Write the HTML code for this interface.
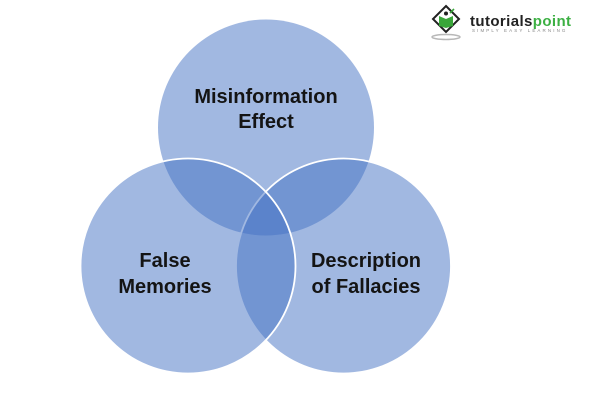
<!DOCTYPE html>
<html>
<head>
<meta charset="utf-8">
<style>
  html,body{margin:0;padding:0;background:#fff;}
  body{width:600px;height:406px;overflow:hidden;}
  svg{display:block;}
  .lbl{font-family:"Liberation Sans",sans-serif;font-weight:bold;font-size:20px;fill:#141414;text-anchor:middle;}
</style>
</head>
<body>
<svg width="600" height="406" viewBox="0 0 600 406" xmlns="http://www.w3.org/2000/svg">
  <rect width="600" height="406" fill="#fff"/>
  <!-- Venn circles -->
  <circle cx="266" cy="127.5" r="108" fill="#4472C4" fill-opacity="0.5"/>
  <circle cx="343.5" cy="266" r="107.5" fill="#4472C4" fill-opacity="0.5" stroke="#fff" stroke-width="1.8"/>
  <circle cx="188" cy="266" r="107.5" fill="#4472C4" fill-opacity="0.5" stroke="#fff" stroke-width="1.8"/>

  <!-- Labels -->
  <text class="lbl" x="266" y="103">Misinformation</text>
  <text class="lbl" x="266" y="128">Effect</text>
  <text class="lbl" x="165" y="267">False</text>
  <text class="lbl" x="165" y="293">Memories</text>
  <text class="lbl" x="366" y="267">Description</text>
  <text class="lbl" x="366" y="293">of Fallacies</text>

  <!-- Logo -->
  <g>
    <ellipse cx="446" cy="37" rx="14" ry="2.5" fill="none" stroke="#b8b8b8" stroke-width="1.5"/>
    <polygon points="446,6 459,19 446,32 433,19" fill="#fff" stroke="#222" stroke-width="2"/>
    <path d="M439,16 L446,19 L453,16 L453,26 L446,28 L439,26 Z" fill="#3aa63a"/>
    <circle cx="446" cy="13.5" r="2" fill="#222"/>
    <path d="M450,13 L454,9" stroke="#3aa63a" stroke-width="1.6"/>
    <text x="470" y="26" font-family="Liberation Sans, sans-serif" font-weight="bold" font-size="15" letter-spacing="0.4" fill="#222">tutorials<tspan fill="#3cb043">point</tspan></text>
    <text x="472" y="32" font-family="Liberation Sans, sans-serif" font-size="4.5" letter-spacing="2.1" fill="#888">SIMPLY EASY LEARNING</text>
  </g>
</svg>
</body>
</html>
